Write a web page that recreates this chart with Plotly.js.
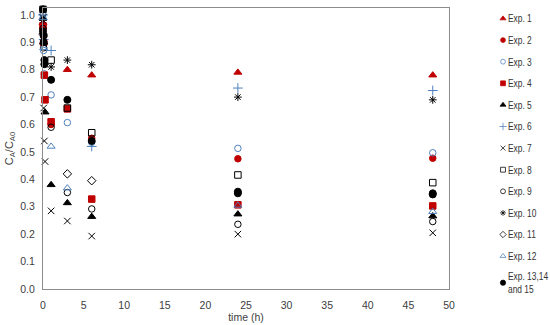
<!DOCTYPE html>
<html>
<head>
<meta charset="utf-8">
<script src="https://cdn.plot.ly/plotly-3.0.1.min.js"></script>
<style>html,body{margin:0;padding:0;background:#fff;}#chart{width:550px;height:325px;}</style>
</head>
<body>
<div id="chart"></div>
<script>
// ---- data (time in h, C_A/C_A0) ----
const seriesNames = ["Exp. 1","Exp. 2","Exp. 3","Exp. 4","Exp. 5","Exp. 6","Exp. 7","Exp. 8","Exp. 9","Exp. 10","Exp. 11","Exp. 12","Exp. 13,14<br>and 15"];

const t1 = [0, 0.083, 3, 6, 24, 48];
const v1 = [0.97, 0.90, 0.80, 0.78, 0.79, 0.78];
const t2 = [0, 0.083, 1, 6, 24, 48];
const v2 = [0.95, 0.90, 0.60, 0.55, 0.475, 0.477];
const t3 = [0, 0.083, 0.167, 1, 3, 6, 24, 48];
const v3 = [1.0, 0.87, 0.785, 0.708, 0.607, 0.535, 0.513, 0.497];
const t4 = [0, 0.083, 0.167, 0.25, 1, 3, 6, 24, 48];
const v4 = [0.96, 0.90, 0.78, 0.69, 0.61, 0.657, 0.328, 0.307, 0.303];
const t5 = [0, 0.083, 0.25, 1, 3, 6, 24, 48];
const v5 = [0.99, 0.90, 0.645, 0.38, 0.314, 0.264, 0.273, 0.266];
const t6 = [0, 0.083, 1, 6, 24, 48];
const v6 = [1.0, 0.91, 0.87, 0.52, 0.733, 0.724];
const t7 = [0, 0.083, 0.167, 0.25, 1, 3, 6, 24, 48];
const v7 = [0.99, 0.66, 0.54, 0.465, 0.285, 0.248, 0.193, 0.20, 0.205];
const t8 = [0, 1, 3, 6, 24, 48];
const v8 = [1.02, 0.835, 0.66, 0.57, 0.416, 0.388];
const t9 = [0, 0.083, 1, 3, 6, 24, 48];
const v9 = [0.95, 0.88, 0.59, 0.352, 0.292, 0.236, 0.246];
const t10 = [0, 0.083, 1, 3, 6, 24, 48];
const v10 = [0.98, 0.92, 0.81, 0.835, 0.818, 0.70, 0.69];
const t11 = [0, 3, 6];
const v11 = [0.93, 0.42, 0.395];
const t12 = [0, 0.083, 1, 3, 24, 48];
const v12 = [0.99, 0.88, 0.52, 0.368, 0.305, 0.282];
const t13 = [0, 0, 0.083, 0.083, 0.167, 0.167, 1, 3, 6, 24, 24, 48, 48];
const v13 = [1.02, 0.94, 0.925, 0.90, 0.835, 0.82, 0.763, 0.69, 0.54, 0.349, 0.355, 0.349, 0.345];

const xTickVals = [0, 5, 10, 15, 20, 25, 30, 35, 40, 45, 50];
const yTickVals = [0, 0.1, 0.2, 0.3, 0.4, 0.5, 0.6, 0.7, 0.8, 0.9, 1.0];

const times = [t1,t2,t3,t4,t5,t6,t7,t8,t9,t10,t11,t12,t13];
const vals  = [v1,v2,v3,v4,v5,v6,v7,v8,v9,v10,v11,v12,v13];

const RED = "#C00000", BLUE = "#4F81BD", BLK = "#000000";
const styles = [
  {symbol:"triangle-up", color:RED, size:7},
  {symbol:"circle", color:RED, size:6.5},
  {symbol:"circle-open", color:BLUE, size:6.5},
  {symbol:"square", color:RED, size:6.5},
  {symbol:"triangle-up", color:BLK, size:7},
  {symbol:"cross-thin-open", color:BLUE, size:7},
  {symbol:"x-thin-open", color:BLK, size:6.5},
  {symbol:"square-open", color:BLK, size:6.5},
  {symbol:"circle-open", color:BLK, size:6.5},
  {symbol:"asterisk-open", color:BLK, size:6.5},
  {symbol:"diamond-open", color:BLK, size:6.5},
  {symbol:"triangle-up-open", color:BLUE, size:7},
  {symbol:"circle", color:BLK, size:7}
];

const traces = seriesNames.map((name, i) => ({
  type: "scatter",
  mode: "markers",
  name: name,
  legendgroup: "g" + i,
  x: times[i],
  y: vals[i],
  cliponaxis: false,
  marker: {
    symbol: styles[i].symbol,
    size: styles[i].size,
    color: styles[i].color,
    line: {color: styles[i].color, width: 1}
  }
}));

const FONT = "Liberation Sans, Arial, sans-serif";
const layout = {
  width: 550, height: 325,
  margin: {l: 43, r: 63, t: 8, b: 36, pad: 0},
  paper_bgcolor: "#ffffff",
  plot_bgcolor: "#ffffff",
  font: {family: FONT, size: 10, color: "#404040"},
  showlegend: true,
  legend: {
    x: 0.998, xanchor: "left", y: 1.0, yanchor: "top",
    font: {family: FONT, size: 10, color: "#333"},
    tracegroupgap: 2.6,
    maxheight: 320,
    itemsizing: "trace",
    bgcolor: "rgba(0,0,0,0)"
  },
  xaxis: {
    range: [0, 50],
    tickvals: xTickVals,
    ticks: "", showgrid: false, zeroline: false,
    showline: true, mirror: true, linecolor: "#8c8c8c", linewidth: 1,
    ticklabelstandoff: 6,
    tickfont: {family: FONT, size: 10.5, color: "#404040"},
    title: {text: "time (h)", font: {family: FONT, size: 10.5, color: "#404040"}, standoff: 0}
  },
  yaxis: {
    range: [0, 1.025],
    tickvals: yTickVals, tickformat: ".1f",
    ticks: "", showgrid: false, zeroline: false,
    showline: true, mirror: true, linecolor: "#8c8c8c", linewidth: 1,
    ticklabelstandoff: 5,
    tickfont: {family: FONT, size: 10.5, color: "#404040"},
    title: {text: "C<sub>A</sub>/C<sub>A0</sub>", font: {family: FONT, size: 11, color: "#404040"}, standoff: 4}
  }
};

Plotly.newPlot("chart", traces, layout, {displayModeBar: false, staticPlot: true}).then(gd => {
  const TX = 25;
  // bring legend text closer to its marker and condense it (the original uses a narrow font)
  gd.querySelectorAll(".legend .legendtext").forEach(t => {
    t.setAttribute("x", String(TX));
    t.querySelectorAll("tspan.line").forEach(s => s.setAttribute("x", String(TX)));
    t.setAttribute("transform", "translate(" + TX + ",0) scale(0.84,1) translate(" + (-TX) + ",0)");
  });
  // legend symbols are a little smaller than the plotted markers in the original
  gd.querySelectorAll(".legend .legendpoints").forEach(p => {
    p.setAttribute("transform", "translate(20,0) scale(0.75) translate(-20,0)");
  });
  // place the legend column at the right edge, as in the original
  const lg = gd.querySelector("g.legend");
  if (lg) {
    const tr = lg.getAttribute("transform") || "";
    const m = tr.match(/translate\(\s*([-\d.]+)[ ,]+([-\d.]+)\s*\)/);
    if (m) {
      const lx = parseFloat(m[1]), ly = parseFloat(m[2]);
      const pts = lg.querySelector(".legendpoints");
      let markerX = lx + 20;
      if (pts) markerX = pts.getBoundingClientRect().left + pts.getBoundingClientRect().width / 2;
      const dx = 503 - markerX;
      lg.setAttribute("transform", "translate(" + (lx + dx) + "," + (ly - 4) + ")");
    }
    // make sure nothing in the legend is clipped by its scroll box
    lg.querySelectorAll("[clip-path]").forEach(el => el.removeAttribute("clip-path"));
  }
});
</script>
</body>
</html>
